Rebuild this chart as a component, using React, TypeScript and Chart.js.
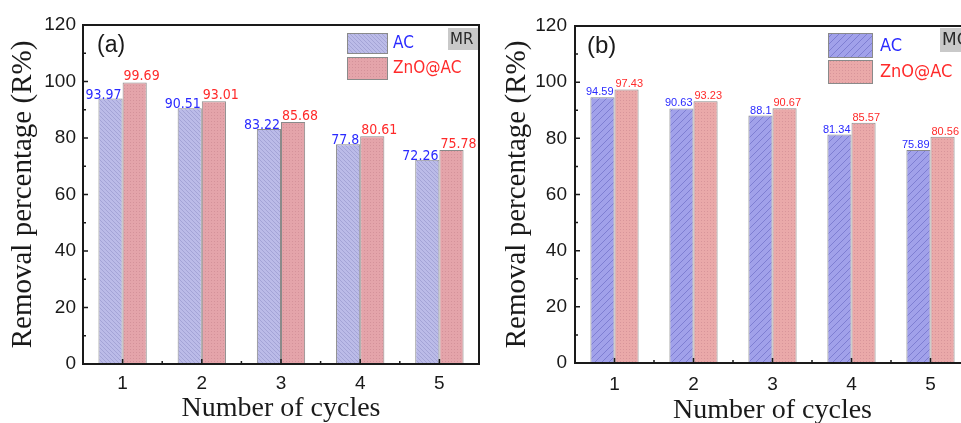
import React, { useEffect, useRef } from 'react';
import { Chart, registerables } from 'chart.js';

Chart.register(...registerables);

// ---------- data ----------
const cycles = ['1', '2', '3', '4', '5'];
const seriesNames = ['AC', 'ZnO@AC'];
const mrAC = [93.97, 90.51, 83.22, 77.8, 72.26];
const mrZnO = [99.69, 93.01, 85.68, 80.61, 75.78];
const mcAC = [94.59, 90.63, 88.1, 81.34, 75.89];
const mcZnO = [97.43, 93.23, 90.67, 85.57, 80.56];
const yMin = 0;
const yMax = 120;
const yStep = 20;
const yTitle = 'Removal percentage (R%)';
const xTitle = 'Number of cycles';

// ---------- patterns ----------
function makeHatch(base: string, line: string, dir: 'back' | 'fwd', s: number, lw: number) {
  const c = document.createElement('canvas');
  c.width = s;
  c.height = s;
  const g = c.getContext('2d')!;
  g.fillStyle = base;
  g.fillRect(0, 0, s, s);
  g.strokeStyle = line;
  g.lineWidth = lw;
  g.beginPath();
  for (const k of [-s, 0, s]) {
    if (dir === 'back') {
      g.moveTo(k, 0);
      g.lineTo(k + s, s);
    } else {
      g.moveTo(k + s, 0);
      g.lineTo(k, s);
    }
  }
  g.stroke();
  return g.createPattern(c, 'repeat')!;
}

function makeDots(base: string, dot: string) {
  const c = document.createElement('canvas');
  c.width = 3;
  c.height = 3;
  const g = c.getContext('2d')!;
  g.fillStyle = base;
  g.fillRect(0, 0, 3, 3);
  g.fillStyle = dot;
  g.fillRect(1, 1, 1, 1);
  return g.createPattern(c, 'repeat')!;
}

type PanelCfg = {
  left: number;
  width: number;
  height: number;
  ac: number[];
  zn: number[];
  padTop: number;
  padRight: number;
  yWidth: number;
  xHeight: number;
  yTitlePad: number;
  xTitleLH: number;
  xTitlePad: number;
  xTickPad: number;
  yTickPad: number;
  labelFont: string;
  acDy: number;
  znDy: number;
  acFill: () => CanvasPattern;
  znFill: () => CanvasPattern;
  legend: { bx: number; bw: number; acY: number; acH: number; znY: number; znH: number; tx: number; font: string };
  tag: { text: string; x: number; y: number; w: number; h: number; font: string };
  letter: { text: string; x: number; y: number; font: string };
};

const blue = '#2a2aff';
const red = '#ff2a2a';
const ink = '#1a1a1a';

function Panel({ cfg }: { cfg: PanelCfg }) {
  const ref = useRef<HTMLCanvasElement | null>(null);
  useEffect(() => {
    const canvas = ref.current!;
    const acPat = cfg.acFill();
    const znPat = cfg.znFill();
    const framePlugin = {
      id: 'frame' + cfg.letter.text,
      afterDatasetsDraw(chart: any) {
        const ctx = chart.ctx as CanvasRenderingContext2D;
        const { left, right, top, bottom } = chart.chartArea;
        const xs = chart.scales.x;
        const ys = chart.scales.y;
        ctx.save();
        // data labels
        const metas = [chart.getDatasetMeta(0), chart.getDatasetMeta(1)];
        ctx.font = cfg.labelFont;
        ctx.textBaseline = 'alphabetic';
        metas[0].data.forEach((bar: any, i: number) => {
          ctx.fillStyle = blue;
          ctx.textAlign = 'right';
          ctx.fillText(String(cfg.ac[i]), bar.x + bar.width / 2 - 1, bar.y + cfg.acDy);
        });
        metas[1].data.forEach((bar: any, i: number) => {
          ctx.fillStyle = red;
          ctx.textAlign = 'left';
          ctx.fillText(String(cfg.zn[i]), bar.x - bar.width / 2 + 1, bar.y + cfg.znDy);
        });
        // frame
        ctx.strokeStyle = ink;
        ctx.lineWidth = 2;
        ctx.strokeRect(left, top, right - left, bottom - top);
        // y ticks (inward)
        ctx.lineWidth = 1.5;
        ctx.beginPath();
        for (let v = yMin; v <= yMax; v += yStep / 2) {
          const py = ys.getPixelForValue(v);
          const len = (v - yMin) % yStep === 0 ? 5 : 3;
          ctx.moveTo(left, py);
          ctx.lineTo(left + len, py);
        }
        // x ticks (inward)
        for (let i = 0; i < cycles.length; i++) {
          const px = xs.getPixelForValue(i);
          ctx.moveTo(px, bottom);
          ctx.lineTo(px, bottom - 5);
          if (i < cycles.length - 1) {
            const mx = (px + xs.getPixelForValue(i + 1)) / 2;
            ctx.moveTo(mx, bottom);
            ctx.lineTo(mx, bottom - 3);
          }
        }
        ctx.stroke();
        // legend
        const L = cfg.legend;
        ctx.lineWidth = 1;
        ctx.strokeStyle = '#8a8a8a';
        ctx.fillStyle = acPat;
        ctx.fillRect(L.bx, L.acY, L.bw, L.acH);
        ctx.strokeRect(L.bx + 0.5, L.acY + 0.5, L.bw, L.acH);
        ctx.fillStyle = znPat;
        ctx.fillRect(L.bx, L.znY, L.bw, L.znH);
        ctx.strokeRect(L.bx + 0.5, L.znY + 0.5, L.bw, L.znH);
        ctx.font = L.font;
        ctx.textAlign = 'left';
        ctx.textBaseline = 'middle';
        ctx.fillStyle = blue;
        ctx.fillText(seriesNames[0], L.tx, L.acY + L.acH / 2 + 1);
        ctx.fillStyle = red;
        ctx.fillText(seriesNames[1], L.tx, L.znY + L.znH / 2 + 1);
        // tag
        const T = cfg.tag;
        ctx.fillStyle = '#c9c9c9';
        ctx.fillRect(T.x, T.y, T.w, T.h);
        ctx.fillStyle = '#2a2a2a';
        ctx.font = T.font;
        ctx.fillText(T.text, T.x + 2, T.y + T.h / 2 + 1);
        // panel letter
        const P = cfg.letter;
        ctx.fillStyle = ink;
        ctx.font = P.font;
        ctx.fillText(P.text, P.x, P.y);
        ctx.restore();
      },
    };

    const tickFont = { family: "'Liberation Sans', Arial, sans-serif", size: 19 };
    const chart = new Chart(canvas, {
      type: 'bar',
      data: {
        labels: cycles,
        datasets: [
          {
            label: seriesNames[0],
            data: cfg.ac,
            backgroundColor: acPat,
            borderColor: '#8a8a8a',
            borderWidth: 1,
            barPercentage: 1,
            categoryPercentage: 0.61,
          },
          {
            label: seriesNames[1],
            data: cfg.zn,
            backgroundColor: znPat,
            borderColor: '#8a8a8a',
            borderWidth: 1,
            barPercentage: 1,
            categoryPercentage: 0.61,
          },
        ],
      },
      options: {
        responsive: false,
        animation: false,
        events: [],
        layout: { padding: { top: cfg.padTop, right: cfg.padRight, left: 0, bottom: 0 } },
        plugins: { legend: { display: false }, tooltip: { enabled: false }, title: { display: false } },
        scales: {
          x: {
            type: 'category',
            offset: true,
            grid: { display: false, drawTicks: false },
            border: { display: false },
            ticks: { font: tickFont, color: ink, padding: cfg.xTickPad },
            title: {
              display: true,
              text: xTitle,
              color: ink,
              font: { family: "'Liberation Serif', 'Times New Roman', serif", size: 28, lineHeight: cfg.xTitleLH },
              padding: { top: 0, bottom: cfg.xTitlePad },
            },
            afterFit: (s: any) => {
              s.height = cfg.xHeight;
            },
          },
          y: {
            min: yMin,
            max: yMax,
            grid: { display: false, drawTicks: false },
            border: { display: false },
            ticks: { stepSize: yStep, font: tickFont, color: ink, padding: cfg.yTickPad },
            title: {
              display: true,
              text: yTitle,
              color: ink,
              font: { family: "'Liberation Serif', 'Times New Roman', serif", size: 29, lineHeight: 1.2 },
              padding: { top: cfg.yTitlePad, bottom: 0 },
            },
            afterFit: (s: any) => {
              s.width = cfg.yWidth;
            },
          },
        },
      },
      plugins: [framePlugin],
    } as any);
    return () => chart.destroy();
  }, [cfg]);
  return (
    <canvas
      ref={ref}
      width={cfg.width}
      height={cfg.height}
      style={{ position: 'absolute', left: cfg.left, top: 0, width: cfg.width, height: cfg.height }}
    />
  );
}

const panelA: PanelCfg = {
  left: 0,
  width: 481,
  height: 423,
  ac: mrAC,
  zn: mrZnO,
  padTop: 25,
  padRight: 2,
  yWidth: 83,
  xHeight: 59,
  yTitlePad: 6,
  xTitleLH: 1,
  xTitlePad: 0,
  xTickPad: 8.5,
  yTickPad: 7,
  labelFont: "14px 'DejaVu Sans Condensed', 'DejaVu Sans', sans-serif",
  acDy: 0,
  znDy: -2,
  acFill: () => makeHatch('#bbbbe8', '#a4a4d6', 'back', 4, 1),
  znFill: () => makeDots('#e4a4aa', '#d4929a'),
  legend: { bx: 347, bw: 40, acY: 33, acH: 20, znY: 57, znH: 22, tx: 393, font: "17px 'DejaVu Sans Condensed', 'DejaVu Sans', sans-serif" },
  tag: { text: 'MR', x: 448, y: 28, w: 30, h: 22, font: "15px 'DejaVu Sans', sans-serif" },
  letter: { text: '(a)', x: 97, y: 46, font: "23px 'Liberation Sans', Arial, sans-serif" },
};

const panelB: PanelCfg = {
  left: 481,
  width: 495,
  height: 423,
  ac: mcAC,
  zn: mcZnO,
  padTop: 26,
  padRight: 6,
  yWidth: 94,
  xHeight: 60,
  yTitlePad: 18.6,
  xTitleLH: 0.8,
  xTitlePad: 1,
  xTickPad: 10,
  yTickPad: 8,
  labelFont: "11px 'Liberation Sans', Arial, sans-serif",
  acDy: -2,
  znDy: -2,
  acFill: () => makeHatch('#a1a1ea', '#7e7ed2', 'fwd', 7, 1),
  znFill: () => makeDots('#eaa9a9', '#d8959a'),
  legend: { bx: 347, bw: 44, acY: 33, acH: 24, znY: 60, znH: 23, tx: 399, font: "18px 'DejaVu Sans Condensed', 'DejaVu Sans', sans-serif" },
  tag: { text: 'MC', x: 459, y: 28, w: 40, h: 24, font: "17px 'DejaVu Sans', sans-serif" },
  letter: { text: '(b)', x: 106, y: 46, font: "24px 'Liberation Sans', Arial, sans-serif" },
};

export default function App() {
  return (
    <div
      style={{
        position: 'fixed',
        left: 0,
        top: 0,
        width: 961,
        height: 423,
        overflow: 'hidden',
        background: '#fff',
      }}
    >
      <Panel cfg={panelA} />
      <Panel cfg={panelB} />
    </div>
  );
}
